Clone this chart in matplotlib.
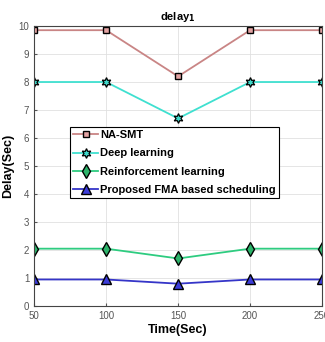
import matplotlib.pyplot as plt

plt.rcParams['font.family'] = ['Liberation Sans', 'DejaVu Sans']

# data
time_sec = [50, 100, 150, 200, 250]
na_smt = [9.85, 9.85, 8.2, 9.85, 9.85]
deep_learning = [8.0, 8.0, 6.7, 8.0, 8.0]
reinforcement = [2.05, 2.05, 1.7, 2.05, 2.05]
proposed_fma = [0.95, 0.95, 0.8, 0.95, 0.95]

fig = plt.figure(figsize=(3.25, 3.42), dpi=100)
ax = fig.add_axes([0.105, 0.105, 0.886, 0.819])

ax.plot(time_sec, na_smt, color='#c98585', lw=1.3, marker='s', ms=5,
        mfc='#e3a3a3', mec='black', mew=1.0, label='NA-SMT')
ax.plot(time_sec, deep_learning, color='#3fe0d0', lw=1.3, marker=(6, 1, 0), ms=7,
        mfc='#3fd6c8', mec='black', mew=0.9, label='Deep learning')
ax.plot(time_sec, reinforcement, color='#2ecc80', lw=1.3, marker='d', ms=7,
        mfc='#2db36a', mec='black', mew=1.0, label='Reinforcement learning')
ax.plot(time_sec, proposed_fma, color='#3535c8', lw=1.3, marker='^', ms=7,
        mfc='#3c3cd8', mec='black', mew=1.0, label='Proposed FMA based scheduling')

ax.set_xlim(50, 250)
ax.set_ylim(0, 10)
ax.set_xticks(time_sec)
ax.set_yticks(range(0, 11))
ax.grid(True, color='#e0e0e0', lw=0.6)
ax.tick_params(labelsize=7, colors='#555555', length=2, direction='in')
for s in ax.spines.values():
    s.set_color('#444444')
    s.set_linewidth(0.8)

ax.set_title('delay$_\\mathbf{1}$', fontsize=8, fontweight='bold', pad=4)
ax.set_xlabel('Time(Sec)', fontsize=9, fontweight='bold', labelpad=2)
ax.set_ylabel('Delay(Sec)', fontsize=9, fontweight='bold', labelpad=3)

leg = ax.legend(loc='upper left', bbox_to_anchor=(0.125, 0.64),
                prop={'weight': 'bold', 'size': 8}, frameon=True, fancybox=False,
                handlelength=2.2, handletextpad=0.2, borderpad=0.3,
                labelspacing=0.75, borderaxespad=0, framealpha=1)
leg.get_frame().set_edgecolor('black')
leg.get_frame().set_linewidth(0.8)

fig.savefig('out.png', dpi=100)
